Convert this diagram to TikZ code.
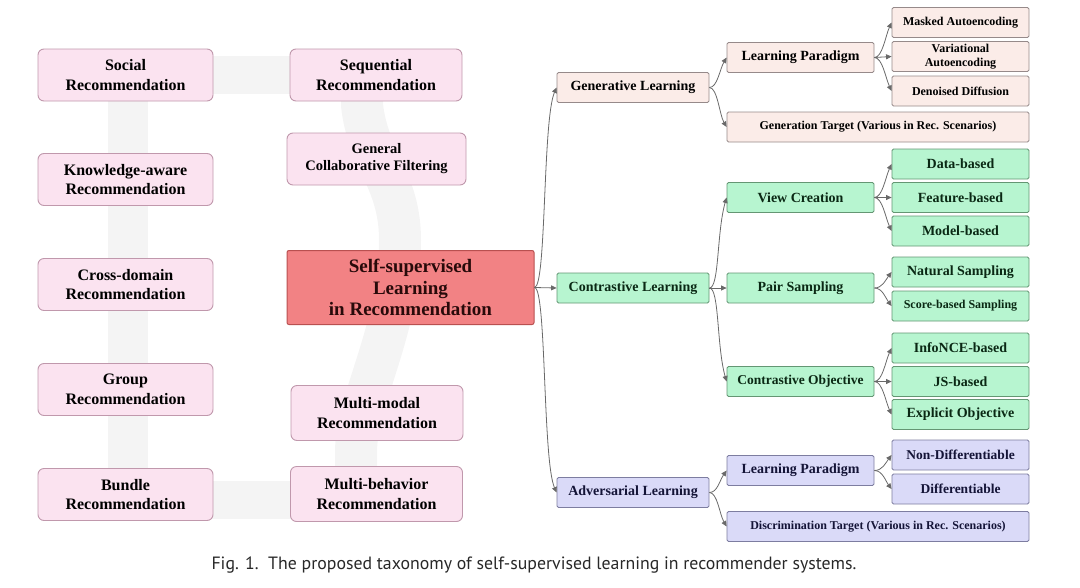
\documentclass[tikz,border=0pt]{standalone}
\usepackage{fontspec}
\setmainfont{Liberation Serif}
\newfontfamily\capfont{PT Sans}
\usetikzlibrary{arrows.meta}
\definecolor{pinkfill}{RGB}{251,227,240}
\definecolor{pinkdraw}{RGB}{192,152,172}
\definecolor{sslfill}{RGB}{242,130,132}
\definecolor{ssldraw}{RGB}{185,80,80}
\definecolor{ssltext}{RGB}{40,10,10}
\definecolor{genfill}{RGB}{251,236,232}
\definecolor{gendraw}{RGB}{150,138,138}
\definecolor{confill}{RGB}{183,245,208}
\definecolor{condraw}{RGB}{100,150,115}
\definecolor{context}{RGB}{10,40,20}
\definecolor{advfill}{RGB}{218,218,248}
\definecolor{advdraw}{RGB}{125,125,160}
\definecolor{advtext}{RGB}{20,20,55}
\definecolor{connc}{RGB}{105,105,105}
\definecolor{bgbar}{RGB}{244,244,244}
\definecolor{captext}{RGB}{40,40,40}
\begin{document}
\begin{tikzpicture}[x=1pt,y=-1pt,
  recbox/.style={draw=pinkdraw, fill=pinkfill, line width=0.9pt, rounded corners=6pt,
    minimum width=175pt, minimum height=52pt, inner sep=0pt, align=center,
    font=\bfseries\fontsize{16}{19.5}\selectfont},
  sslbox/.style={draw=ssldraw, fill=sslfill, line width=1pt, rounded corners=2pt,
    minimum width=247pt, minimum height=74pt, inner sep=0pt, align=center, text=ssltext,
    font=\bfseries\fontsize{19}{21.5}\selectfont},
  lvl/.style={minimum height=30pt, inner sep=0pt, line width=0.8pt, rounded corners=1.5pt,
    align=center, font=\bfseries\fontsize{14}{16}\selectfont},
  lone/.style={lvl, minimum width=152pt},
  ltwo/.style={lvl, minimum width=147pt},
  lthree/.style={lvl, minimum width=137pt},
  ltarget/.style={lvl, minimum width=302pt},
  smalltxt/.style={font=\bfseries\fontsize{12}{13.5}\selectfont},
  midtxt/.style={font=\bfseries\fontsize{13.5}{15}\selectfont},
  genc/.style={draw=gendraw, fill=genfill, text=black},
  conc/.style={draw=condraw, fill=confill, text=context},
  advc/.style={draw=advdraw, fill=advfill, text=advtext},
  conn/.style={draw=connc, line width=0.8pt, -{Triangle[length=5.5pt,width=5pt]}},
  barline/.style={draw=bgbar}
]
\useasboundingbox (0,0) rectangle (1080,587);

% faint background bars
\draw[barline, line width=38pt] (128,75) -- (370,75);
\draw[barline, line width=40pt] (128,75) -- (128,500);
\draw[barline, line width=38pt] (128,500) -- (370,500);
\draw[barline, line width=42pt] (362,75) -- (362,105) .. controls (368,160) and (400,180) .. (400,240)
  .. controls (400,330) and (356,400) .. (356,452) -- (356,500);

% left column
\node[recbox] (social) at (125.5,75) {Social\\Recommendation};
\node[recbox] (know) at (125.5,179.5) {Knowledge-aware\\Recommendation};
\node[recbox] (cross) at (125.5,284.5) {Cross-domain\\Recommendation};
\node[recbox] (group) at (125.5,389.5) {Group\\Recommendation};
\node[recbox] (bundle) at (125.5,494.5) {Bundle\\Recommendation};

% middle column
\node[recbox, minimum width=172pt] (seq) at (376,75) {Sequential\\Recommendation};
\node[recbox, minimum width=179pt, font=\bfseries\fontsize{14.5}{17}\selectfont] (gcf) at (376.5,159) {General\\Collaborative Filtering};
\node[recbox, minimum width=172pt, minimum height=55pt] (mmodal) at (377,413) {Multi-modal\\Recommendation};
\node[recbox, minimum width=172pt, minimum height=55pt] (mbeh) at (376.5,494) {Multi-behavior\\Recommendation};
\node[sslbox] (ssl) at (410.5,287.5) {Self-supervised\\Learning\\in Recommendation};

% level 1
\node[lone, genc] (gen) at (633,87.5) {Generative Learning};
\node[lone, conc] (con) at (633,288) {Contrastive Learning};
\node[lone, advc] (adv) at (633,492.5) {Adversarial Learning};

% level 2
\node[ltwo, genc] (lpg) at (800.5,57.5) {Learning Paradigm};
\node[ltarget, genc, smalltxt] (gtar) at (878,127) {Generation Target (Various in Rec. Scenarios)};
\node[ltwo, conc] (view) at (800.5,197.5) {View Creation};
\node[ltwo, conc] (pair) at (800.5,288) {Pair Sampling};
\node[ltwo, conc, midtxt] (cobj) at (800.5,381.5) {Contrastive Objective};
\node[ltwo, advc] (lpa) at (800.5,470.5) {Learning Paradigm};
\node[ltarget, advc, smalltxt] (dtar) at (878,526.5) {Discrimination Target (Various in Rec. Scenarios)};

% level 3
\node[lthree, genc, smalltxt] (mask) at (960.5,22.5) {Masked Autoencoding};
\node[lthree, genc, smalltxt] (vae) at (960.5,56.5) {Variational\\Autoencoding};
\node[lthree, genc, smalltxt] (diff) at (960.5,91) {Denoised Diffusion};
\node[lthree, conc] (data) at (960.5,164) {Data-based};
\node[lthree, conc] (feat) at (960.5,197.5) {Feature-based};
\node[lthree, conc] (model) at (960.5,231) {Model-based};
\node[lthree, conc] (nat) at (960.5,272) {Natural Sampling};
\node[lthree, conc, smalltxt] (score) at (960.5,306) {Score-based Sampling};
\node[lthree, conc] (info) at (960.5,348) {InfoNCE-based};
\node[lthree, conc] (js) at (960.5,381.5) {JS-based};
\node[lthree, conc] (expl) at (960.5,414.5) {Explicit Objective};
\node[lthree, advc, midtxt] (nondiff) at (960.5,455) {Non-Differentiable};
\node[lthree, advc, midtxt] (ddiff) at (960.5,489) {Differentiable};

% connectors from SSL
\draw[conn] (ssl.east) .. controls +(12,0) and +(-14,32) .. (gen.west);
\draw[conn] (ssl.east) -- (con.west);
\draw[conn] (ssl.east) .. controls +(12,0) and +(-14,-32) .. (adv.west);

% generative branch
\draw[conn] (gen.east) .. controls +(8,0) and +(-7,12) .. (lpg.west);
\draw[conn] (gen.east) .. controls +(8,0) and +(-7,-12) .. (gtar.west);
\draw[conn] (lpg.east) .. controls +(8,0) and +(-6,13) .. (mask.west);
\draw[conn] (lpg.east) -- (vae.west);
\draw[conn] (lpg.east) .. controls +(8,0) and +(-6,-13) .. (diff.west);

% contrastive branch
\draw[conn] (con.east) .. controls +(10,0) and +(-10,35) .. (view.west);
\draw[conn] (con.east) -- (pair.west);
\draw[conn] (con.east) .. controls +(10,0) and +(-10,-35) .. (cobj.west);
\draw[conn] (view.east) .. controls +(8,0) and +(-6,13) .. (data.west);
\draw[conn] (view.east) -- (feat.west);
\draw[conn] (view.east) .. controls +(8,0) and +(-6,-13) .. (model.west);
\draw[conn] (pair.east) .. controls +(8,0) and +(-6,8) .. (nat.west);
\draw[conn] (pair.east) .. controls +(8,0) and +(-6,-8) .. (score.west);
\draw[conn] (cobj.east) .. controls +(8,0) and +(-6,13) .. (info.west);
\draw[conn] (cobj.east) -- (js.west);
\draw[conn] (cobj.east) .. controls +(8,0) and +(-6,-13) .. (expl.west);

% adversarial branch
\draw[conn] (adv.east) .. controls +(8,0) and +(-7,10) .. (lpa.west);
\draw[conn] (adv.east) .. controls +(8,0) and +(-7,-12) .. (dtar.west);
\draw[conn] (lpa.east) .. controls +(8,0) and +(-6,8) .. (nondiff.west);
\draw[conn] (lpa.east) .. controls +(8,0) and +(-6,-8) .. (ddiff.west);

% caption
\node[font=\capfont\fontsize{17.8}{21}\selectfont, text=captext] (cap) at (534,565)
  {Fig. 1.\ \ The proposed taxonomy of self-supervised learning in recommender systems.};
\end{tikzpicture}
\end{document}
